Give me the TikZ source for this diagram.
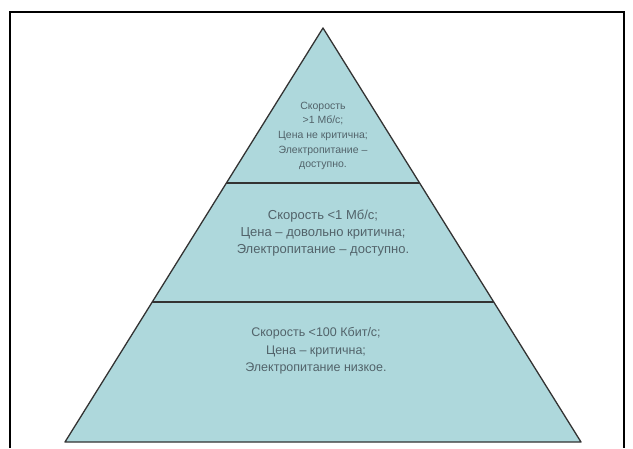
\documentclass[tikz,border=0pt]{standalone}
\usepackage{fontspec}
\setmainfont{Liberation Sans}
\usetikzlibrary{positioning,calc}
\definecolor{levelfill}{HTML}{AED8DC}
\definecolor{leveltext}{HTML}{52636A}

\begin{document}
\begin{tikzpicture}[x=1pt, y=-1pt,
        level/.style={align=center, text=leveltext, inner sep=0pt},
        edge/.style={draw=black!80, line width=1.3pt, line join=round}]
        \useasboundingbox (0,0) rectangle (633,448);
        \draw[line width=2pt] (10,448) -- (10,12) -- (624,12) -- (624,448);
        \coordinate (apex) at (323,28);
        \coordinate (bl) at (65,442);
        \coordinate (br) at (581,442);
        \coordinate (l1) at ($(apex)!0.3744!(bl)$);
        \coordinate (r1) at ($(apex)!0.3744!(br)$);
        \coordinate (l2) at ($(apex)!0.6618!(bl)$);
        \coordinate (r2) at ($(apex)!0.6618!(br)$);
        \fill[levelfill] (apex) -- (bl) -- (br) -- cycle;
        \draw[edge] (apex) -- (bl) -- (br) -- cycle;
        \draw[edge, line width=2pt] (l1) -- (r1);
        \draw[edge, line width=2pt] (l2) -- (r2);
        \node[level, font=\fontsize{10.5}{14.7}\selectfont] (top) at (323,136)
          {Скорость\\>1 Мб/с;\\Цена не критична;\\Электропитание –\\доступно.};
        \node[level, font=\fontsize{13}{17}\selectfont] (mid) at (323,233)
          {Скорость <1 Мб/с;\\Цена – довольно критична;\\Электропитание – доступно.};
        \node[level, font=\fontsize{12.5}{17.5}\selectfont] (base) at (316,351)
          {Скорость <100 Кбит/с;\\Цена – критична;\\Электропитание низкое.};
      \end{tikzpicture}
\end{document}
